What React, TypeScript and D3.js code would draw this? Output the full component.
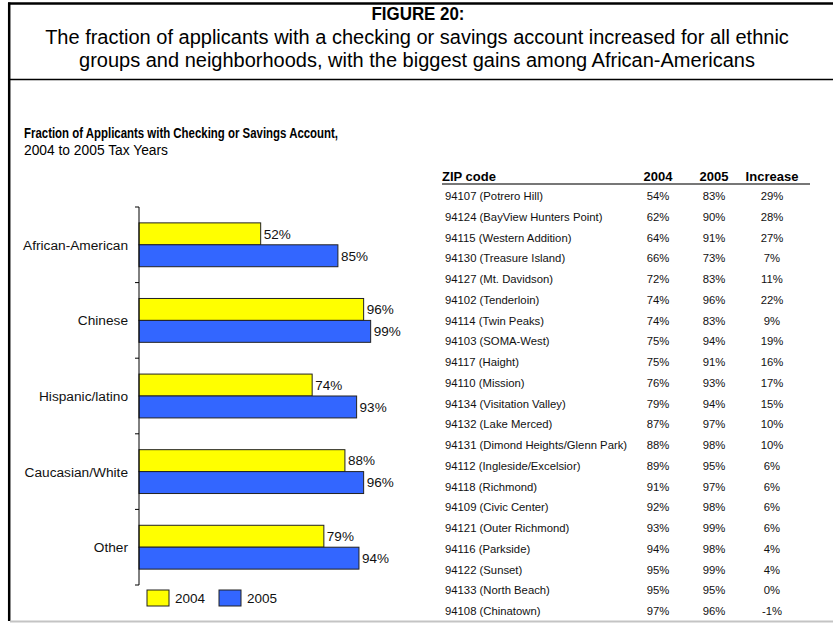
import React from 'react';
import * as d3 from 'd3';

const W = 833;
const H = 623;
const FONT = "Arial, 'Liberation Sans', Helvetica, sans-serif";

const categories = ['African-American', 'Chinese', 'Hispanic/latino', 'Caucasian/White', 'Other'];
const years = ['2004', '2005'];
const values2004 = [0.52, 0.96, 0.74, 0.88, 0.79];
const values2005 = [0.85, 0.99, 0.93, 0.96, 0.94];
const YEAR_COLORS = ['#ffff00', '#3366ff'];

const zipLabels = [
  '94107 (Potrero Hill)',
  '94124 (BayView Hunters Point)',
  '94115 (Western Addition)',
  '94130 (Treasure Island)',
  '94127 (Mt. Davidson)',
  '94102 (Tenderloin)',
  '94114 (Twin Peaks)',
  '94103 (SOMA-West)',
  '94117 (Haight)',
  '94110 (Mission)',
  '94134 (Visitation Valley)',
  '94132 (Lake Merced)',
  '94131 (Dimond Heights/Glenn Park)',
  '94112 (Ingleside/Excelsior)',
  '94118 (Richmond)',
  '94109 (Civic Center)',
  '94121 (Outer Richmond)',
  '94116 (Parkside)',
  '94122 (Sunset)',
  '94133 (North Beach)',
  '94108 (Chinatown)',
];
const zip2004 = [54, 62, 64, 66, 72, 74, 74, 75, 75, 76, 79, 87, 88, 89, 91, 92, 93, 94, 95, 95, 97];
const zip2005 = [83, 90, 91, 73, 83, 96, 83, 94, 91, 93, 94, 97, 98, 95, 97, 98, 99, 98, 99, 95, 96];
const zipIncrease = [29, 28, 27, 7, 11, 22, 9, 19, 16, 17, 15, 10, 10, 6, 6, 6, 6, 4, 4, 0, -1];
const tableHeaders = ['ZIP code', '2004', '2005', 'Increase'];

export default function App() {
  // bar chart scales
  const y = d3.scaleBand<string>().domain(categories).range([207, 585]).paddingInner(0.42).paddingOuter(0.21);
  const yInner = d3.scaleBand<string>().domain(years).range([0, y.bandwidth()]);
  const x = d3.scaleLinear().domain([0, 1]).range([139, 373]);
  const x0 = x(0);
  const tickYs = d3.range(categories.length + 1).map((i) => y.range()[0] + i * y.step());

  // table scales
  const rowY = d3.scalePoint<string>().domain(zipLabels).range([196, 611]);
  const colX = [445, 658, 714, 772];

  const pct = (v: number) => `${Math.round(v * 100)}%`;

  return (
    <svg width={W} height={H} style={{ position: 'absolute', left: 0, top: 0, background: '#fff' }} fontFamily={FONT}>
      {/* frame */}
      <line x1={8} x2={W} y1={3.5} y2={3.5} stroke="#000" strokeWidth={2.5} />
      <line x1={9.2} x2={9.2} y1={2.5} y2={621} stroke="#000" strokeWidth={2.5} />
      <line x1={10} x2={W} y1={79.5} y2={79.5} stroke="#000" strokeWidth={1.3} />
      <line x1={10} x2={W} y1={621.5} y2={621.5} stroke="#c4c4c4" strokeWidth={2} />

      {/* figure heading */}
      <text x={418} y={20} textAnchor="middle" fontSize={18.5} fontWeight="bold" textLength={93} lengthAdjust="spacingAndGlyphs">
        FIGURE 20:
      </text>
      <text x={417} y={44} textAnchor="middle" fontSize={20}>
        The fraction of applicants with a checking or savings account increased for all ethnic
      </text>
      <text x={417} y={67} textAnchor="middle" fontSize={20}>
        groups and neighborhoods, with the biggest gains among African-Americans
      </text>

      {/* chart title */}
      <text x={24} y={138} fontSize={14} fontWeight="bold" textLength={314} lengthAdjust="spacingAndGlyphs">
        Fraction of Applicants with Checking or Savings Account,
      </text>
      <text x={24} y={155} fontSize={13.8}>2004 to 2005 Tax Years</text>

      {/* bars */}
      {categories.map((c, i) => {
        const vals = [values2004[i], values2005[i]];
        return (
          <g key={c}>
            {years.map((yr, j) => {
              const by = y(c)! + yInner(yr)!;
              return (
                <g key={yr}>
                  <rect
                    x={x0}
                    y={by}
                    width={x(vals[j]) - x0}
                    height={yInner.bandwidth()}
                    fill={YEAR_COLORS[j]}
                    stroke="#222"
                    strokeWidth={1}
                  />
                  <text x={x(vals[j]) + 3} y={by + yInner.bandwidth() / 2} dy="0.36em" fontSize={13.5} fill="#111">
                    {pct(vals[j])}
                  </text>
                </g>
              );
            })}
            <text x={128} y={y(c)! + y.bandwidth() / 2} dy="0.36em" textAnchor="end" fontSize={13.7} fill="#111">
              {c}
            </text>
          </g>
        );
      })}

      {/* axis */}
      <line x1={x0} x2={x0} y1={tickYs[0]} y2={tickYs[tickYs.length - 1]} stroke="#000" strokeWidth={1} />
      {tickYs.map((t) => (
        <line key={t} x1={x0 - 4} x2={x0} y1={t} y2={t} stroke="#000" strokeWidth={1} />
      ))}

      {/* legend */}
      {years.map((yr, j) => (
        <g key={yr} transform={`translate(${147 + j * 72},590)`}>
          <rect width={22} height={16} fill={YEAR_COLORS[j]} stroke="#222" strokeWidth={1} />
          <text x={28} y={8} dy="0.36em" fontSize={13.5} fill="#111">{yr}</text>
        </g>
      ))}

      {/* table */}
      {tableHeaders.map((h, k) => (
        <text
          key={h}
          x={k === 0 ? 442 : colX[k]}
          y={176}
          dy="0.36em"
          textAnchor={k === 0 ? 'start' : 'middle'}
          fontSize={13}
          fontWeight="bold"
        >
          {h}
        </text>
      ))}
      <line x1={442} x2={810} y1={184} y2={184} stroke="#777" strokeWidth={1.8} />
      {zipLabels.map((z, i) => {
        const cy = rowY(z)!;
        const cells = [z, `${zip2004[i]}%`, `${zip2005[i]}%`, `${zipIncrease[i]}%`];
        return (
          <g key={z}>
            {cells.map((t, k) => (
              <text
                key={k}
                x={colX[k]}
                y={cy}
                dy="0.36em"
                textAnchor={k === 0 ? 'start' : 'middle'}
                fontSize={11.3}
                fill="#111"
              >
                {t}
              </text>
            ))}
          </g>
        );
      })}
    </svg>
  );
}
